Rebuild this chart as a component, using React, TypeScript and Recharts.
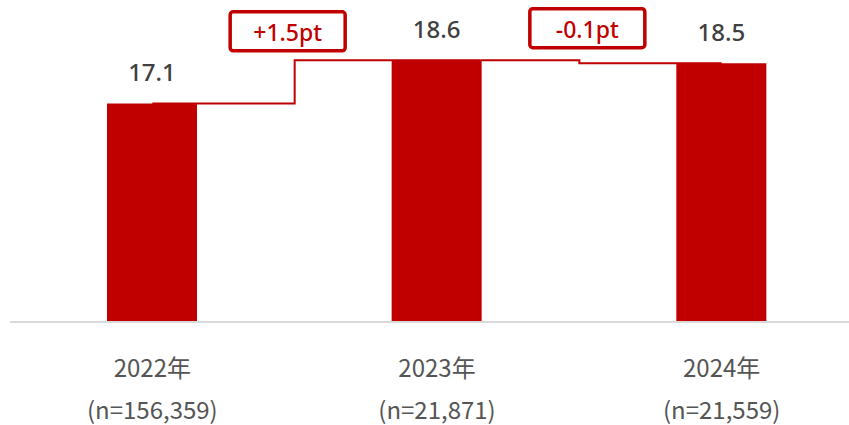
import * as React from 'react'
import { ComposedChart, Bar, Line, XAxis, YAxis, LabelList } from 'recharts'

const years = ['2022年', '2023年', '2024年']
const sampleSizes = ['(n=156,359)', '(n=21,871)', '(n=21,559)']
const scores = [17.1, 18.6, 18.5]
const changeLabels = ['', '+1.5pt', '-0.1pt']

const data = years.map((year, i) => ({ year, n: sampleSizes[i], score: scores[i], change: changeLabels[i] }))

const RED = '#c00000'
const CHART_W = 864
const MARGIN_LEFT = 10
const STEP = (CHART_W - MARGIN_LEFT) / years.length
// nudges for the change boxes relative to the step
const boxShift = [null, { dx: -7, dy: -29 }, { dx: 8, dy: -35 }]

const YearTick = (props: any) => {
  const { x, y, payload, index } = props
  return (
    <g>
      <text x={x} y={y + 55} textAnchor="middle" fill="#555" fontSize={24}
        fontFamily="'Noto Sans CJK JP', 'Noto Sans', sans-serif">
        {payload.value}
      </text>
      <text x={x} y={y + 97} textAnchor="middle" fill="#555" fontSize={24}
        fontFamily="'Noto Sans CJK JP', 'Noto Sans', sans-serif">
        {sampleSizes[index]}
      </text>
    </g>
  )
}

const ChangeBox = (props: any) => {
  const { x, y, index, value } = props
  if (!value || !boxShift[index]) return null
  const cx = x - STEP / 2 + boxShift[index].dx
  const cy = y + boxShift[index].dy
  return (
    <g>
      <rect x={cx - 57.5} y={cy - 19.5} width={115} height={39} rx={3} fill="#fff" stroke={RED} strokeWidth={3.5} />
      <text x={cx} y={cy + 1} textAnchor="middle" dominantBaseline="central" fill={RED} fontSize={23}
        fontWeight={500} fontFamily="'Noto Sans', 'Noto Sans CJK JP', sans-serif">
        {value}
      </text>
    </g>
  )
}

export default function App(): React.ReactElement {
  return (
    <div style={{ position: 'absolute', left: 0, top: 0, width: 849, height: 425, overflow: 'hidden', background: '#fff' }}>
      <ComposedChart width={CHART_W} height={425} data={data} margin={{ top: 20, right: 0, left: MARGIN_LEFT, bottom: 0 }}>
        <XAxis
          dataKey="year"
          height={103}
          tickLine={false}
          tickSize={0}
          tickMargin={0}
          axisLine={{ stroke: '#d9d9d9', strokeWidth: 2 }}
          tick={<YearTick />}
          interval={0}
        />
        <YAxis hide domain={[9.5, 20]} />
        <Line
          type="step"
          dataKey="score"
          stroke={RED}
          strokeWidth={2}
          dot={false}
          activeDot={false}
          isAnimationActive={false}
        />
        <Bar dataKey="score" fill={RED} barSize={90} isAnimationActive={false}>
          <LabelList
            dataKey="score"
            position="top"
            offset={22}
            fill="#404040"
            fontSize={24}
            fontWeight={500}
            fontFamily="'Noto Sans', sans-serif"
            formatter={(v: any) => Number(v).toFixed(1)}
          />
        </Bar>
        <Line
          type="step"
          dataKey="score"
          stroke="none"
          dot={false}
          activeDot={false}
          legendType="none"
          isAnimationActive={false}
        >
          <LabelList dataKey="change" content={<ChangeBox />} />
        </Line>
      </ComposedChart>
    </div>
  )
}
